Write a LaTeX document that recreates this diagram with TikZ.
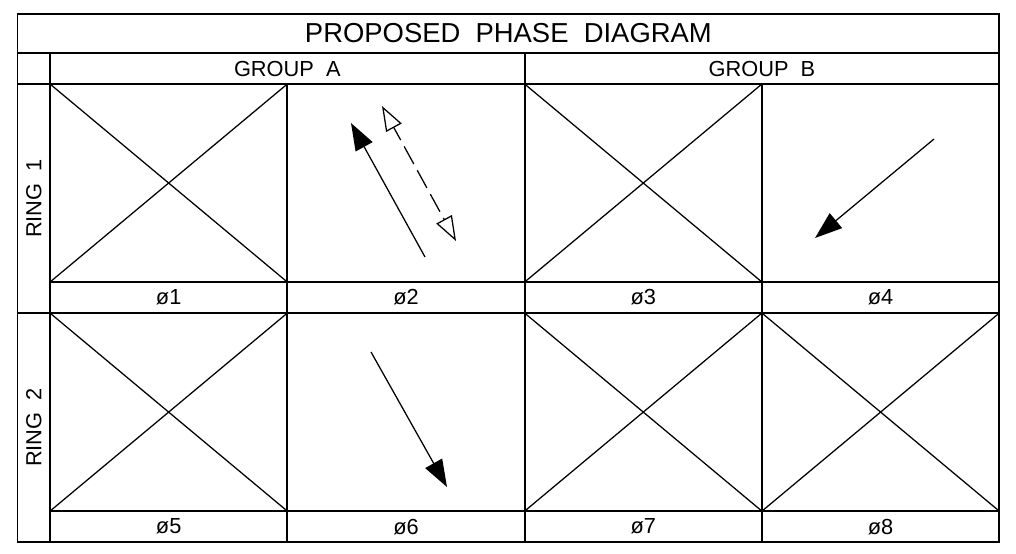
\documentclass[tikz,border=0pt]{standalone}
\usepackage{fontspec}
\setmainfont{Liberation Sans}
\usepackage{tikz}
\usetikzlibrary{positioning, arrows.meta, calc}
\tikzset{
  cell/.style={rectangle, draw, line width=1.4pt, inner sep=0pt, outer sep=0pt,
               minimum width=5.93125cm, minimum height=4.95cm},
  lbl/.style={rectangle, draw, line width=1.4pt, inner sep=0pt, outer sep=0pt,
              minimum width=5.93125cm, minimum height=0.775cm, font=\fontsize{15.5}{16}\selectfont},
  grp/.style={lbl, minimum width=11.8625cm},
  ttl/.style={rectangle, draw, line width=1.4pt, inner sep=0pt, outer sep=0pt,
              minimum width=24.5375cm, minimum height=0.975cm, font=\fontsize{19.5}{20}\selectfont},
  ring/.style={lbl, rotate=90, minimum width=5.725cm, minimum height=0.8125cm},
  xline/.style={line width=0.9pt},
  arr/.style={-{Triangle[length=6.8mm, width=4.8mm]}, line width=0.9pt},
  oarr/.style={{Triangle[open, length=6.2mm, width=4.4mm]}-{Triangle[open, length=6.2mm, width=4.4mm]},
               line width=0.9pt, dash pattern=on 5mm off 1.8mm, dash phase=1.4mm},
}
\begin{document}
\begin{tikzpicture}[x=0.025cm, y=-0.025cm]
  \useasboundingbox (0,0) rectangle (1016,553);
  % ring 1
  \node[cell, anchor=north west] (c1) at (50,84) {};
  \node[cell, right=0pt of c1] (c2) {};
  \node[cell, right=0pt of c2] (c3) {};
  \node[cell, right=0pt of c3] (c4) {};
  \node[lbl, below=0pt of c1] (p1) {ø1};
  \node[lbl, below=0pt of c2] (p2) {ø2};
  \node[lbl, below=0pt of c3] (p3) {ø3};
  \node[lbl, below=0pt of c4] (p4) {ø4};
  % ring 2
  \node[cell, below=0pt of p1] (c5) {};
  \node[cell, below=0pt of p2] (c6) {};
  \node[cell, below=0pt of p3] (c7) {};
  \node[cell, below=0pt of p4] (c8) {};
  \node[lbl, below=0pt of c5] (p5) {ø5};
  \node[lbl, below=0pt of c6] (p6) {ø6};
  \node[lbl, below=0pt of c7] (p7) {ø7};
  \node[lbl, below=0pt of c8] (p8) {ø8};
  % headings
  \node[grp, above=0pt of c1.north east] (ga) {GROUP\ \ A};
  \node[grp, above=0pt of c3.north east] (gb) {GROUP\ \ B};
  \node[ttl, anchor=south west] (ttl) at ($(ga.north west)+(-32.5,0)$) {PROPOSED\ \ PHASE\ \ DIAGRAM};
  \node[ring] (r1) at ($(c1.north west)!0.5!(p1.south west)+(-16.25,0)$) {RING\ \ 1};
  \node[ring] (r2) at ($(c5.north west)!0.5!(p5.south west)+(-16.25,0)$) {RING\ \ 2};
  \draw[line width=1.4pt] (ttl.north west) rectangle (p8.south east);
  % unused phases
  \foreach \c in {c1,c3,c5,c7,c8}
    \draw[xline] (\c.north west) -- (\c.south east) (\c.south west) -- (\c.north east);
  % movements
  \coordinate (m2a) at (425,257);
  \coordinate (m2b) at (351,123);
  \coordinate (m2c) at (382,106);
  \coordinate (m2d) at (456,241);
  \coordinate (m4a) at (934,139);
  \coordinate (m4b) at (815,238);
  \coordinate (m6a) at (371,352);
  \coordinate (m6b) at (447,487);
  \draw[arr] (m2a) -- (m2b);
  \draw[oarr] (m2c) -- (m2d);
  \draw[arr] (m4a) -- (m4b);
  \draw[arr] (m6a) -- (m6b);
\end{tikzpicture}
\end{document}
